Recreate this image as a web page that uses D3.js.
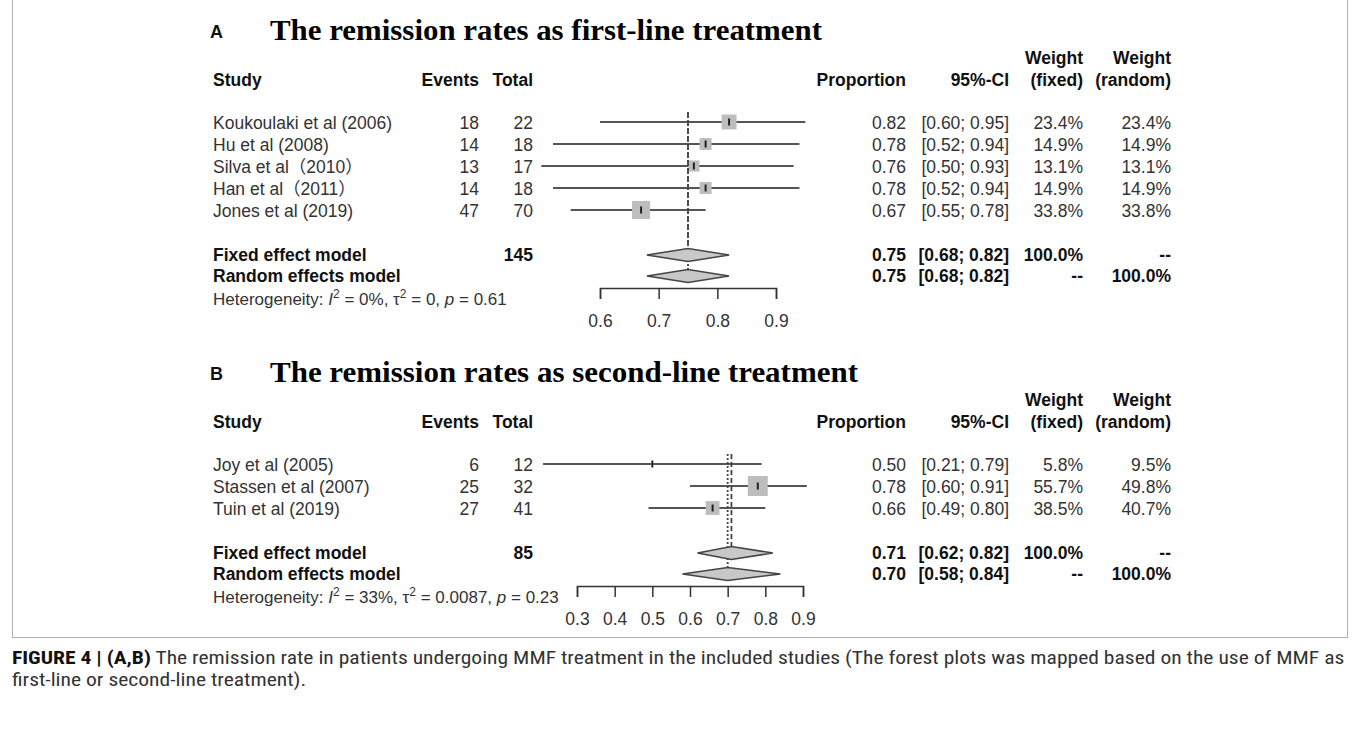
<!DOCTYPE html>
<html><head><meta charset="utf-8">
<script src="https://cdn.jsdelivr.net/npm/d3@7"></script>
<style>body{margin:0;background:#fff}</style>
</head><body>
<svg id="c" width="1359" height="731"></svg>
<script>
// ---------- Panel A data ----------
const titleA = "The remission rates as first-line treatment";
const studiesA = ["Koukoulaki et al (2006)", "Hu et al (2008)", "Silva et al（2010）", "Han et al（2011）", "Jones et al (2019)"];
const eventsA = [18, 14, 13, 14, 47];
const totalA = [22, 18, 17, 18, 70];
const propA = [0.82, 0.78, 0.76, 0.78, 0.67];
const lowerA = [0.60, 0.52, 0.50, 0.52, 0.55];
const upperA = [0.95, 0.94, 0.93, 0.94, 0.78];
const wFixedA = [23.4, 14.9, 13.1, 14.9, 33.8];
const wRandomA = [23.4, 14.9, 13.1, 14.9, 33.8];
const fixedA = [0.75, 0.68, 0.82];
const randomA = [0.75, 0.68, 0.82];
const sumTotalA = 145;
const hetA = ["0%", "0", "0.61"];
const ticksA = [0.6, 0.7, 0.8, 0.9];

// ---------- Panel B data ----------
const titleB = "The remission rates as second-line treatment";
const studiesB = ["Joy et al (2005)", "Stassen et al (2007)", "Tuin et al (2019)"];
const eventsB = [6, 25, 27];
const totalB = [12, 32, 41];
const propB = [0.50, 0.78, 0.66];
const lowerB = [0.21, 0.60, 0.49];
const upperB = [0.79, 0.91, 0.80];
const wFixedB = [5.8, 55.7, 38.5];
const wRandomB = [9.5, 49.8, 40.7];
const fixedB = [0.71, 0.62, 0.82];
const randomB = [0.70, 0.58, 0.84];
const sumTotalB = 85;
const hetB = ["33%", "0.0087", "0.23"];
const ticksB = [0.3, 0.4, 0.5, 0.6, 0.7, 0.8, 0.9];

const captionBold = "FIGURE 4 | (A,B)";
const captionLine1 = " The remission rate in patients undergoing MMF treatment in the included studies (The forest plots was mapped based on the use of MMF as";
const captionLine2 = "first-line or second-line treatment).";

const svg = d3.select("#c");
svg.append("rect").attr("width", 1359).attr("height", 731).attr("fill", "#fff");
svg.append("rect").attr("x", 12.5).attr("y", -2).attr("width", 1335).attr("height", 639.5)
  .attr("fill", "none").attr("stroke", "#b0b0b0").attr("stroke-width", 1);

const SANS = "'Liberation Sans', Arial, 'Noto Sans CJK SC', sans-serif";
const FS = 17.5;
const col = {study: 213, events: 479, total: 533, prop: 906, ci: 1009, wf: 1083, wr: 1171};
const f2 = d3.format(".2f"), f1 = d3.format(".1f");
const pct = v => f1(v) + "%";
const ci = (lo, hi) => "[" + f2(lo) + "; " + f2(hi) + "]";

const panels = [
  {label: "A", title: titleA, titleEnd: 822, studies: studiesA, events: eventsA, total: totalA, prop: propA,
   lower: lowerA, upper: upperA, wf: wFixedA, wr: wRandomA, fixed: fixedA, random: randomA, sumTotal: sumTotalA,
   het: hetA, ticks: ticksA, domain: [0.6, 0.9], range: [600, 776], firstRow: 122, boxMax: 18, boxExp: 0.5},
  {label: "B", title: titleB, titleEnd: 858, studies: studiesB, events: eventsB, total: totalB, prop: propB,
   lower: lowerB, upper: upperB, wf: wFixedB, wr: wRandomB, fixed: fixedB, random: randomB, sumTotal: sumTotalB,
   het: hetB, ticks: ticksB, domain: [0.3, 0.9], range: [577, 803], firstRow: 464, boxMax: 20, boxExp: 1}
];

function txt(g, x, y, s, opt = {}) {
  return g.append("text").attr("x", x).attr("y", y).text(s)
    .attr("font-family", SANS).attr("font-size", opt.size || FS)
    .attr("font-weight", opt.bold ? "bold" : "normal")
    .attr("fill", opt.bold ? "#111" : "#333")
    .attr("text-anchor", opt.anchor || "start");
}

panels.forEach(p => {
  const g = svg.append("g");
  const x = d3.scaleLinear().domain(p.domain).range(p.range);
  const rowY = i => p.firstRow + i * 22;
  const yFixed = rowY(p.studies.length + 1) + 1;
  const yRandom = yFixed + 21;
  const yAxis = yRandom + 12;
  const header = p.firstRow - 36;
  const wmax = d3.max(p.wf);
  const box = d3.scalePow().exponent(p.boxExp).domain([0, wmax]).range([0, p.boxMax]);

  // label + title
  g.append("text").attr("x", 210).attr("y", header - 48).text(p.label)
    .attr("font-family", SANS).attr("font-size", 18).attr("font-weight", "bold").attr("fill", "#111");
  g.append("text").attr("x", 270).attr("y", header - 46).text(p.title)
    .attr("font-family", "'Liberation Serif', 'Times New Roman', serif").attr("font-size", 30)
    .attr("font-weight", "bold").attr("fill", "#000")
    .attr("textLength", p.titleEnd - 270).attr("lengthAdjust", "spacingAndGlyphs");

  // headers
  const hb = {bold: true};
  txt(g, col.wf, header - 22, "Weight", {bold: true, anchor: "end"});
  txt(g, col.wr, header - 22, "Weight", {bold: true, anchor: "end"});
  txt(g, col.study, header, "Study", hb);
  txt(g, col.events, header, "Events", {bold: true, anchor: "end"});
  txt(g, col.total, header, "Total", {bold: true, anchor: "end"});
  txt(g, col.prop, header, "Proportion", {bold: true, anchor: "end"});
  txt(g, col.ci, header, "95%-CI", {bold: true, anchor: "end"});
  txt(g, col.wf, header, "(fixed)", {bold: true, anchor: "end"});
  txt(g, col.wr, header, "(random)", {bold: true, anchor: "end"});

  // study rows
  p.studies.forEach((s, i) => {
    const y = rowY(i), b = y + 7;
    txt(g, col.study, b, s);
    txt(g, col.events, b, p.events[i], {anchor: "end"});
    txt(g, col.total, b, p.total[i], {anchor: "end"});
    txt(g, col.prop, b, f2(p.prop[i]), {anchor: "end"});
    txt(g, col.ci, b, ci(p.lower[i], p.upper[i]), {anchor: "end"});
    txt(g, col.wf, b, pct(p.wf[i]), {anchor: "end"});
    txt(g, col.wr, b, pct(p.wr[i]), {anchor: "end"});
    g.append("line").attr("x1", x(p.lower[i])).attr("x2", x(p.upper[i])).attr("y1", y).attr("y2", y)
      .attr("stroke", "#555").attr("stroke-width", 2);
    const s2 = Math.max(box(p.wf[i]), 2);
    g.append("rect").attr("x", x(p.prop[i]) - s2 / 2).attr("y", y - s2 / 2).attr("width", s2).attr("height", s2)
      .attr("fill", "#bdbdbd");
    g.append("line").attr("x1", x(p.prop[i])).attr("x2", x(p.prop[i])).attr("y1", y - 3.5).attr("y2", y + 3.5)
      .attr("stroke", "#222").attr("stroke-width", 2);
  });

  // pooled rows
  txt(g, col.study, yFixed + 6, "Fixed effect model", hb);
  txt(g, col.total, yFixed + 6, p.sumTotal, {bold: true, anchor: "end"});
  txt(g, col.prop, yFixed + 6, f2(p.fixed[0]), {bold: true, anchor: "end"});
  txt(g, col.ci, yFixed + 6, ci(p.fixed[1], p.fixed[2]), {bold: true, anchor: "end"});
  txt(g, col.wf, yFixed + 6, "100.0%", {bold: true, anchor: "end"});
  txt(g, col.wr, yFixed + 6, "--", {bold: true, anchor: "end"});
  txt(g, col.study, yRandom + 6, "Random effects model", hb);
  txt(g, col.prop, yRandom + 6, f2(p.random[0]), {bold: true, anchor: "end"});
  txt(g, col.ci, yRandom + 6, ci(p.random[1], p.random[2]), {bold: true, anchor: "end"});
  txt(g, col.wf, yRandom + 6, "--", {bold: true, anchor: "end"});
  txt(g, col.wr, yRandom + 6, "100.0%", {bold: true, anchor: "end"});

  // reference lines
  g.append("line").attr("x1", x(p.fixed[0])).attr("x2", x(p.fixed[0]))
    .attr("y1", p.firstRow - 10).attr("y2", yFixed - 6)
    .attr("stroke", "#444").attr("stroke-width", 1.8).attr("stroke-dasharray", "5,3");
  g.append("line").attr("x1", x(p.random[0])).attr("x2", x(p.random[0]))
    .attr("y1", p.firstRow - 10).attr("y2", yRandom - 6)
    .attr("stroke", "#444").attr("stroke-width", 1.8).attr("stroke-dasharray", "2,2");

  // diamonds
  [[p.fixed, yFixed], [p.random, yRandom]].forEach(([d, y]) => {
    const pts = [[x(d[1]), y], [x(d[0]), y - 6.5], [x(d[2]), y], [x(d[0]), y + 6.5]];
    g.append("polygon").attr("points", pts.map(q => q.join(",")).join(" "))
      .attr("fill", "#c8c8c8").attr("stroke", "#444").attr("stroke-width", 1.6);
  });

  // heterogeneity
  const ht = g.append("text").attr("x", col.study).attr("y", yRandom + 29)
    .attr("font-family", SANS).attr("font-size", 17).attr("fill", "#333");
  ht.append("tspan").text("Heterogeneity: ");
  ht.append("tspan").text("I").attr("font-style", "italic");
  ht.append("tspan").text("2").attr("font-size", 12).attr("dy", -7);
  ht.append("tspan").text(" = " + p.het[0] + ", τ").attr("dy", 7);
  ht.append("tspan").text("2").attr("font-size", 12).attr("dy", -7);
  ht.append("tspan").text(" = " + p.het[1] + ", ").attr("dy", 7);
  ht.append("tspan").text("p").attr("font-style", "italic");
  ht.append("tspan").text(" = " + p.het[2]);

  // axis
  const ax = g.append("g").attr("transform", `translate(0,${yAxis})`)
    .call(d3.axisBottom(x).tickValues(p.ticks).tickSize(11).tickSizeOuter(11).tickPadding(16)
      .tickFormat(d3.format(".1f")));
  ax.select(".domain").attr("stroke", "#333").attr("stroke-width", 1.5);
  ax.selectAll(".tick line").attr("stroke", "#333").attr("stroke-width", 1.5);
  ax.selectAll(".tick text").attr("font-family", SANS).attr("font-size", FS).attr("fill", "#333");
});

// caption
const CAPF = "'Liberation Sans Narrow', 'Roboto Condensed', Roboto, 'Liberation Sans', sans-serif";
const cap = svg.append("g").attr("transform", "translate(12,0)");
const c1 = cap.append("text").attr("y", 664).attr("font-family", CAPF)
  .attr("font-size", 17.5).attr("fill", "#333");
c1.append("tspan").text(captionBold).attr("font-weight", "bold").attr("fill", "#111");
c1.append("tspan").text(captionLine1);
const c2 = cap.append("text").attr("y", 686).attr("font-family", CAPF)
  .attr("font-size", 17.5).attr("fill", "#333").text(captionLine2);
const sx = 1333 / c1.node().getComputedTextLength();
c1.attr("transform", `scale(${sx},1)`);
c2.attr("transform", `scale(${sx},1)`);
</script>
</body></html>
